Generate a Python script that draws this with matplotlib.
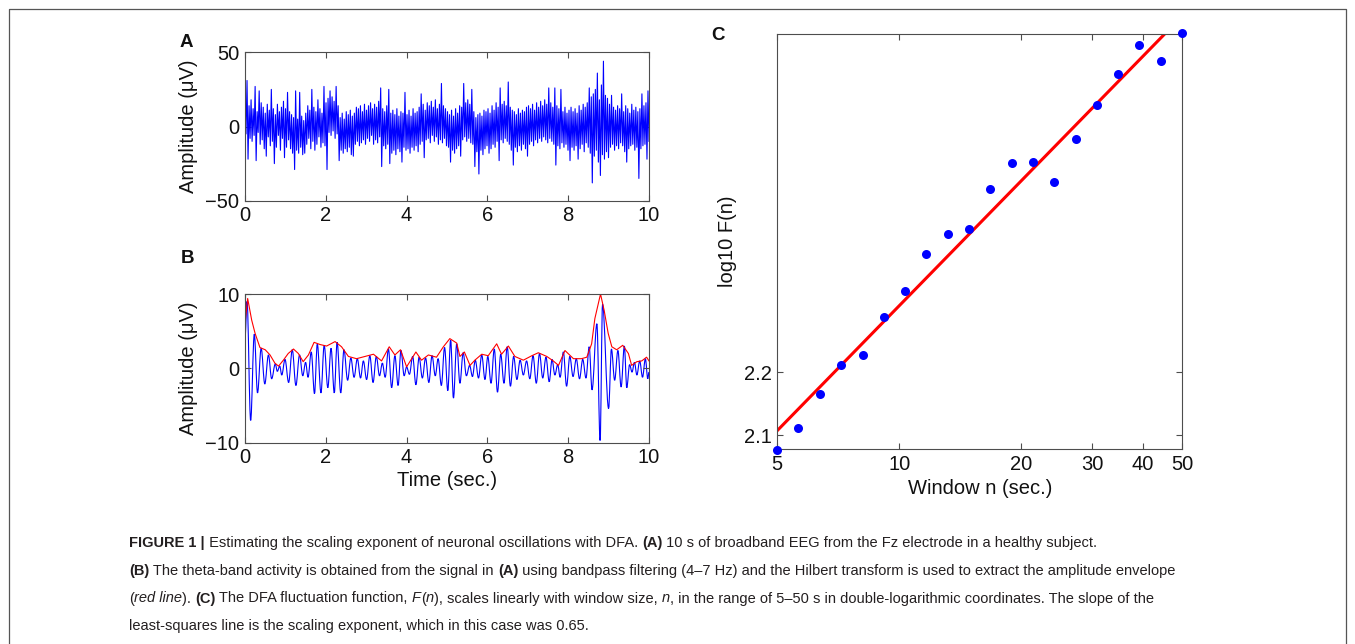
import numpy as np
import matplotlib
matplotlib.use("Agg")
import matplotlib.pyplot as plt
from matplotlib.lines import Line2D
from matplotlib.path import Path
from matplotlib.patches import PathPatch
from matplotlib.transforms import IdentityTransform
from matplotlib.ticker import NullLocator

plt.rcParams['font.family'] = ['Liberation Sans', 'DejaVu Sans']

# ======================================================
# Data
# ======================================================

# (A) broadband EEG, 10 s, alternating local maxima / minima (uV)
eeg_raw = [
    24, -5, 31, -22, 14, -8, 18, -10, 12, -6, 27, -23, 10, -4, 24, -12, 16, -9, 13, -15,
    9, -20, 15, -7, 11, -13, 25, -10, 12, -25, 8, -14, 15, -6, 10, -16, 13, -8, 17, -21,
    12, -14, 23, -9, 10, -15, 8, -18, 6, -29, 24, -16, 5, -18, 23, -14, 7, -19, 4, -18,
    9, -12, 14, -8, 11, -15, 25, -10, 13, -16, 10, -12, 18, -7, 12, -14, 9, -11, 27, -13,
    16, -29, 19, -4, 24, -6, 20, -3, 17, -8, 27, -5, 14, -23, 6, -16, 9, -18, 5, -15,
    10, -17, 8, -14, 11, -19, 7, -20, 9, -12, 13, -10, 12, -13, 14, -11, 10, -9, 15, -12,
    11, -8, 14, -10, 16, -6, 12, -12, 15, -9, 13, -11, 17, -7, 26, -27, 12, -13, 10, -15,
    14, -12, 25, -25, 9, -18, 11, -16, 8, -19, 12, -15, 7, -17, 10, -24, 9, -14, 23, -16,
    8, -15, 11, -18, 7, -14, 12, -16, 9, -13, 10, -17, 13, -12, 22, -10, 15, -21, 11, -9,
    16, -8, 14, -11, 17, -6, 13, -10, 18, -7, 12, -12, 15, -9, 29, -11, 14, -8, 12, -13,
    10, -14, 8, -24, 11, -16, 7, -18, 12, -15, 9, -13, 14, -20, 13, -9, 29, -7, 16, -10,
    18, -8, 15, -11, 25, -12, 10, -27, 6, -17, 8, -32, 9, -16, 7, -19, 11, -15, 10, -13,
    12, -18, 9, -15, 14, -12, 11, -14, 16, -10, 13, -23, 26, -9, 15, -11, 17, -8, 14, -10,
    30, -12, 13, -16, 11, -26, 10, -14, 8, -17, 12, -13, 9, -16, 11, -12, 10, -15, 13, -20,
    14, -12, 12, -10, 15, -13, 11, -9, 16, -11, 13, -8, 17, -10, 14, -7, 18, -9, 15, -11,
    26, -8, 16, -10, 13, -12, 26, -26, 14, -13, 12, -15, 25, -11, 10, -14, 13, -12, 9, -16,
    11, -23, 13, -14, 10, -16, 12, -13, 9, -22, 14, -15, 11, -12, 15, -17, 13, -11, 16, -14,
    26, -18, 20, -38, 22, -20, 25, -16, 36, -24, 18, -33, 28, -19, 44, -22, 21, -17, 19, -21,
    15, -14, 21, -12, 13, -16, 11, -13, 14, -15, 12, -11, 22, -13, 10, -17, 14, -24, 12, -15,
    9, -13, 15, -12, 11, -16, 13, -14, 10, -35, 12, -15, 22, -13, 14, -12, 16, -22, 24, -10,
]

# (B) theta-band signal: (time s, extremum uV)
theta = [
    (0.00, 4.0), (0.05, 9.0), (0.14, -7.0), (0.23, 4.6), (0.31, -3.3), (0.40, 2.7),
    (0.49, -2.1), (0.58, 1.8), (0.66, -1.4), (0.75, 0.6), (0.80, -0.4), (0.86, 0.3),
    (0.91, -0.9), (0.99, 1.2), (1.08, -1.9), (1.17, 2.5), (1.26, -2.3), (1.35, 1.8),
    (1.43, -1.0), (1.50, 0.8), (1.56, -1.2), (1.64, 2.2), (1.72, -3.4), (1.79, 3.3),
    (1.88, -3.3), (1.96, 3.1), (2.05, -2.6), (2.13, 2.7), (2.21, -3.3), (2.28, 3.5),
    (2.37, -3.3), (2.45, 2.5), (2.54, -1.6), (2.62, 1.4), (2.70, -1.2), (2.78, 1.3),
    (2.86, -1.3), (2.93, 1.0), (3.01, -1.5), (3.09, 1.7), (3.17, -1.9), (3.25, 1.6),
    (3.33, -1.0), (3.40, 0.7), (3.47, -1.2), (3.55, 2.6), (3.63, -2.6), (3.71, 1.7),
    (3.79, -2.3), (3.86, 2.4), (3.94, -1.0), (4.00, 0.2), (4.07, -0.8), (4.15, 1.6),
    (4.23, -2.2), (4.31, 1.5), (4.39, -1.3), (4.47, 1.4), (4.55, -1.9), (4.63, 1.7),
    (4.71, -1.0), (4.78, 1.3), (4.86, -2.3), (4.94, 2.8), (5.02, -3.0), (5.09, 3.8),
    (5.16, -4.0), (5.24, 3.3), (5.32, -2.0), (5.40, 2.1), (5.48, -1.0), (5.56, 0.4),
    (5.63, -1.1), (5.70, 1.1), (5.78, -1.3), (5.86, 1.8), (5.94, -1.5), (6.01, 1.6),
    (6.09, -2.0), (6.17, 2.6), (6.25, -3.2), (6.33, 1.9), (6.41, -2.0), (6.49, 2.9),
    (6.57, -2.4), (6.65, 1.6), (6.73, -1.5), (6.81, 1.1), (6.89, -0.9), (6.97, 1.0),
    (7.05, -1.4), (7.13, 1.7), (7.21, -2.0), (7.29, 2.0), (7.37, -1.3), (7.45, 1.5),
    (7.53, -1.8), (7.60, 1.2), (7.67, -0.9), (7.74, 0.5), (7.80, -1.2), (7.88, 2.2),
    (7.96, -2.4), (8.04, 1.6), (8.12, -1.1), (8.20, 1.3), (8.28, -1.4), (8.36, 1.2),
    (8.44, -1.3), (8.52, 2.9), (8.59, -2.9), (8.71, 6.0), (8.79, -9.7), (8.85, 8.6),
    (9.00, -5.4), (9.07, 2.6), (9.15, -1.6), (9.23, 2.4), (9.31, -2.5), (9.39, 3.0),
    (9.45, -2.6), (9.52, 0.5), (9.58, -0.5), (9.64, 0.8), (9.70, -0.9), (9.77, 1.0),
    (9.84, -1.2), (9.91, 1.3), (9.97, -1.4), (10.0, -0.5),
]

# (B) Hilbert amplitude envelope: (time s, uV)
envelope = [
    (0.00, 6.0), (0.066, 9.4), (0.165, 6.5), (0.25, 4.7), (0.37, 2.8), (0.50, 2.5),
    (0.62, 1.8), (0.74, 0.7), (0.83, 0.3), (0.95, 1.1), (1.07, 2.0), (1.20, 2.6),
    (1.32, 2.0), (1.44, 0.9), (1.57, 1.8), (1.71, 3.5), (1.86, 3.2), (2.02, 3.0),
    (2.23, 3.6), (2.39, 2.9), (2.56, 1.6), (2.76, 1.3), (2.97, 1.6), (3.18, 1.9),
    (3.38, 1.0), (3.57, 2.9), (3.71, 1.8), (3.85, 2.5), (4.00, 0.2), (4.23, 2.2),
    (4.37, 1.1), (4.54, 1.8), (4.74, 1.5), (4.91, 2.9), (5.07, 4.0), (5.24, 3.4),
    (5.32, 1.6), (5.43, 2.2), (5.57, 0.4), (5.69, 1.1), (5.86, 1.9), (6.02, 1.7),
    (6.23, 3.3), (6.35, 1.9), (6.52, 3.0), (6.68, 1.6), (6.89, 1.1), (7.10, 1.7),
    (7.26, 2.1), (7.47, 1.6), (7.63, 1.0), (7.76, 0.4), (7.92, 2.4), (8.13, 1.3),
    (8.33, 1.3), (8.46, 1.5), (8.58, 3.3), (8.66, 6.7), (8.80, 10.0), (8.89, 7.8),
    (8.99, 4.7), (9.08, 2.9), (9.20, 2.5), (9.35, 3.1), (9.49, 2.0), (9.57, 0.4),
    (9.70, 0.9), (9.82, 1.0), (9.94, 1.5), (10.0, 1.0),
]

# (C) DFA fluctuation function
dfa_n = [5.0, 5.64, 6.37, 7.19, 8.12, 9.17, 10.35, 11.68, 13.18, 14.88,
         16.80, 18.96, 21.41, 24.17, 27.28, 30.79, 34.76, 39.24, 44.29, 50.0]
dfa_logF = [2.077, 2.111, 2.165, 2.212, 2.228, 2.288, 2.329, 2.388, 2.419, 2.427,
            2.490, 2.532, 2.533, 2.502, 2.569, 2.623, 2.673, 2.719, 2.694, 2.737]

# ======================================================
# Figure
# ======================================================
W, H = 1355, 644
fig = plt.figure(figsize=(W / 100, H / 100), dpi=100)
PX = IdentityTransform()
TXT = '#111111'


def px_axes(left, top, right, bottom):
    return fig.add_axes([left / W, 1 - bottom / H, (right - left) / W, (bottom - top) / H])


def style(ax):
    for s in ax.spines.values():
        s.set_color('#4d4d4d')
        s.set_linewidth(0.8)
    ax.tick_params(direction='in', length=4, width=0.8, top=True, right=True,
                   labelsize=14.5, colors='#4d4d4d', labelcolor=TXT, pad=4)


def label(x, y, s, rot=0, **kw):
    fig.text(x, H - y, s, transform=PX, rotation=rot, ha='center', va='center',
             fontsize=14.5, color=TXT, **kw)


# ---- A
ax_a = px_axes(245, 52.3, 649, 200.7)
t_raw = np.linspace(0, 10, len(eeg_raw))
ax_a.plot(t_raw, eeg_raw, color='#0000ff', lw=0.8)
ax_a.set_xlim(0, 10)
ax_a.set_ylim(-50, 50)
ax_a.set_xticks([0, 2, 4, 6, 8, 10])
ax_a.set_yticks([-50, 0, 50])
style(ax_a)
label(188.5, 126.5, 'Amplitude (μV)', rot=90)

# ---- B  (extrema joined by smooth curves with flat tangents)
ax_b = px_axes(245, 294, 649, 442.7)
verts = [theta[0]]
codes = [Path.MOVETO]
for (ta, va), (tb, vb) in zip(theta[:-1], theta[1:]):
    d = (tb - ta) * 0.36
    verts += [(ta + d, va), (tb - d, vb), (tb, vb)]
    codes += [Path.CURVE4] * 3
ax_b.add_patch(PathPatch(Path(verts, codes), fill=False, edgecolor='#0000ff', lw=0.8))
te, ve = zip(*envelope)
ax_b.plot(te, ve, color='#ff0000', lw=0.8)
ax_b.set_xlim(0, 10)
ax_b.set_ylim(-10, 10)
ax_b.set_xticks([0, 2, 4, 6, 8, 10])
ax_b.set_yticks([-10, 0, 10])
style(ax_b)
label(188.5, 368.4, 'Amplitude (μV)', rot=90)
label(447, 481, 'Time (sec.)')

# ---- C
ax_c = px_axes(777.3, 34, 1182, 449.3)
slope, icpt = np.polyfit(np.log10(dfa_n), dfa_logF, 1)
nn = np.array([5.0, 50.0])
ax_c.plot(nn, icpt + slope * np.log10(nn), color='#ff0000', lw=2.2, zorder=2)
ax_c.plot(dfa_n, dfa_logF, 'o', color='#0000ff', ms=6.5, mec='none', clip_on=False, zorder=3)
ax_c.set_xscale('log')
ax_c.set_xlim(5, 50)
ax_c.set_ylim(2.0778, 2.736)
ax_c.set_xticks([5, 10, 20, 30, 40, 50])
ax_c.set_xticklabels(['5', '10', '20', '30', '40', '50'])
ax_c.xaxis.set_minor_locator(NullLocator())
ax_c.set_yticks([2.1, 2.2])
ax_c.set_yticklabels(['2.1', '2.2'])
style(ax_c)
label(727.5, 241.6, 'log10 F(n)', rot=90)
label(980, 488, 'Window n (sec.)')

# panel letters
for x, y, s in [(180, 46.7, 'A'), (180.7, 263.3, 'B'), (711.7, 40, 'C')]:
    fig.text(x, H - y, s, transform=PX, fontsize=13.5, fontweight='bold',
             color=TXT, ha='left', va='baseline')

# frame (open at the bottom)
fig.add_artist(Line2D([9, 9, 1346, 1346], [-5, H - 9, H - 9, -5], transform=PX,
                      color='#555555', lw=0.9))

# ======================================================
# Caption
# ======================================================
renderer = fig.canvas.get_renderer()
CAP = dict(fontsize=10.5, color='#231f20', transform=PX, va='baseline', ha='left')


def style_kw(kind):
    if kind == 'b':
        return {'fontweight': 'bold'}
    if kind == 'i':
        return {'fontstyle': 'italic'}
    return {}


def width(s, kind):
    a = fig.text(0, 0, '|' + s + '|', **CAP, **style_kw(kind))
    b = fig.text(0, 0, '||', **CAP, **style_kw(kind))
    w = a.get_window_extent(renderer).width - b.get_window_extent(renderer).width
    a.remove()
    b.remove()
    return w


def runs(x, y, parts):
    for s, kind in parts:
        fig.text(x, H - y, s, **CAP, **style_kw(kind))
        x += width(s, kind)


X0 = 129
runs(X0, 547, [('FIGURE 1 |', 'b'),
               (' Estimating the scaling exponent of neuronal oscillations with DFA. ', 'r'),
               ('(A)', 'b'),
               (' 10 s of broadband EEG from the Fz electrode in a healthy subject.', 'r')])
runs(X0, 575, [('(B)', 'b'),
               (' The theta-band activity is obtained from the signal in ', 'r'),
               ('(A)', 'b'),
               (' using bandpass filtering (4–7 Hz) and the Hilbert transform is used to '
                'extract the amplitude envelope', 'r')])
runs(X0, 602.5, [('(', 'r'), ('red line', 'i'), ('). ', 'r'), ('(C)', 'b'),
                 (' The DFA fluctuation function, ', 'r'), ('F', 'i'), ('(', 'r'),
                 ('n', 'i'), ('), scales linearly with window size, ', 'r'), ('n', 'i'),
                 (', in the range of 5–50 s in double-logarithmic coordinates. '
                  'The slope of the', 'r')])
runs(X0, 630, [('least-squares line is the scaling exponent, which in this case was 0.65.', 'r')])

fig.savefig('out.png', dpi=100)
